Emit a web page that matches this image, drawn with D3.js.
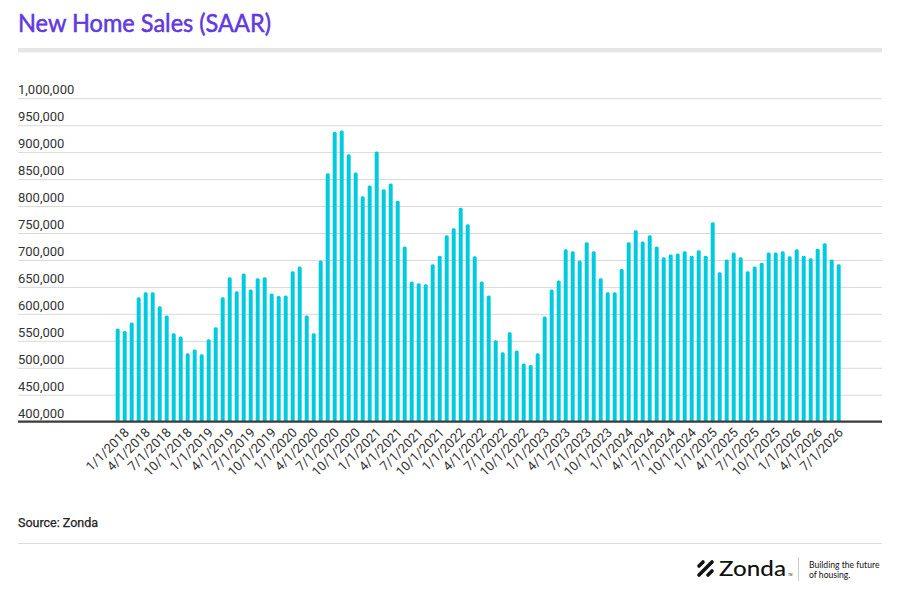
<!DOCTYPE html>
<html>
<head>
<meta charset="utf-8">
<script src="https://cdn.jsdelivr.net/npm/d3@7/dist/d3.min.js"></script>
<style>
  html, body { margin: 0; padding: 0; background: #fff; }
  svg { display: block; }
</style>
</head>
<body>
<svg id="chart" width="900" height="593"></svg>
<script>
// ---- Data ----
const title = "New Home Sales (SAAR)";
const source = "Source: Zonda";
const startMonth = new Date(2018, 0, 1);
const salesValues = [
  573000, 568000, 584000, 631000, 640000, 640000, 614000, 597000, 564000, 558000, 527000, 534000,
  525000, 553000, 575000, 631000, 668000, 642000, 675000, 645000, 666000, 668000, 638000, 633000,
  634000, 679000, 688000, 597000, 564000, 699000, 861000, 938000, 940000, 896000, 862000, 818000,
  838000, 901000, 831000, 842000, 810000, 725000, 660000, 657000, 655000, 692000, 708000, 746000,
  759000, 797000, 766000, 707000, 660000, 634000, 551000, 529000, 566000, 532000, 508000, 505000,
  527000, 595000, 645000, 662000, 720000, 716000, 699000, 733000, 716000, 666000, 640000, 640000,
  683000, 733000, 755000, 734000, 746000, 725000, 705000, 710000, 712000, 716000, 708000, 718000,
  708000, 770000, 677000, 701000, 714000, 705000, 679000, 688000, 695000, 714000, 714000, 716000,
  707000, 720000, 708000, 703000, 721000, 731000, 701000, 692000
];
const yTicks = [400000, 450000, 500000, 550000, 600000, 650000, 700000, 750000, 800000, 850000, 900000, 950000, 1000000];
const yDomain = [400000, 1000000];

const fmtDate = d => (d.getMonth() + 1) + "/" + d.getDate() + "/" + d.getFullYear();
const months = salesValues.map((v, i) => fmtDate(d3.timeMonth.offset(startMonth, i)));
const data = months.map((m, i) => ({ month: m, value: salesValues[i] }));
const tickLabels = months.filter((m, i) => i % 3 === 0);

// ---- Layout ----
const svg = d3.select("#chart");
const left = 18, right = 882;
const x = d3.scaleBand().domain(months).range([114.2, 842.2]).paddingInner(0.43).paddingOuter(0.215);
const y = d3.scaleLinear().domain(yDomain).range([421.7, 98.2]);

// Title
svg.append("text")
  .attr("x", left).attr("y", 32)
  .attr("font-family", "Lato, 'Noto Sans', sans-serif")
  .attr("font-size", 25)
  .attr("fill", "#6139de")
  .attr("stroke", "#6139de").attr("stroke-width", 0.55)
  .attr("textLength", 253).attr("lengthAdjust", "spacingAndGlyphs")
  .text(title);
svg.append("rect")
  .attr("x", left).attr("y", 48).attr("width", right - left).attr("height", 4.5)
  .attr("fill", "#e6e6e6");

// Grid + y labels
const gy = svg.append("g");
gy.selectAll("line.grid").data(yTicks.filter(t => t !== yDomain[0])).join("line")
  .attr("class", "grid")
  .attr("x1", left).attr("x2", right)
  .attr("y1", d => y(d) + 0.5).attr("y2", d => y(d) + 0.5)
  .attr("stroke", "#d9d9d9").attr("stroke-width", 1);
gy.selectAll("text").data(yTicks).join("text")
  .attr("x", left).attr("y", d => y(d) - 4)
  .attr("font-family", "Roboto, sans-serif")
  .attr("font-size", 13)
  .attr("fill", "#333")
  .text(d => d3.format(",")(d));

// Bars with slightly rounded tops
const r = 1.5;
svg.append("g").selectAll("path").data(data).join("path")
  .attr("fill", "#00cbde")
  .attr("d", d => {
    const x0 = x(d.month), w = x.bandwidth(), y0 = y(d.value), yb = y(yDomain[0]);
    return `M${x0},${yb}V${y0 + r}Q${x0},${y0} ${x0 + r},${y0}H${x0 + w - r}Q${x0 + w},${y0} ${x0 + w},${y0 + r}V${yb}Z`;
  });

// Baseline
svg.append("line")
  .attr("x1", left).attr("x2", right)
  .attr("y1", y(yDomain[0])).attr("y2", y(yDomain[0]))
  .attr("stroke", "#3a3a3a").attr("stroke-width", 2.2);

// X labels
svg.append("g").selectAll("text").data(tickLabels).join("text")
  .attr("transform", d => `translate(${x(d) + x.bandwidth() / 2 + 9},${430}) rotate(-45)`)
  .attr("text-anchor", "end")
  .attr("dy", "0.35em")
  .attr("font-family", "Roboto, sans-serif")
  .attr("font-size", 13)
  .attr("fill", "#333")
  .text(d => d);

// Source
svg.append("text")
  .attr("x", left).attr("y", 526.5)
  .attr("font-family", "Roboto, sans-serif")
  .attr("font-size", 12.5)
  .attr("fill", "#222")
  .attr("stroke", "#222").attr("stroke-width", 0.25)
  .text(source);
svg.append("line")
  .attr("x1", left).attr("x2", right)
  .attr("y1", 543.5).attr("y2", 543.5)
  .attr("stroke", "#dcdcdc").attr("stroke-width", 1);

// Logo
const logo = svg.append("g");
logo.append("line").attr("x1", 699).attr("y1", 575).attr("x2", 712).attr("y2", 562)
  .attr("stroke", "#111").attr("stroke-width", 3.6).attr("stroke-linecap", "round");
logo.append("line").attr("x1", 699).attr("y1", 566).attr("x2", 703).attr("y2", 562)
  .attr("stroke", "#111").attr("stroke-width", 3.6).attr("stroke-linecap", "round");
logo.append("line").attr("x1", 708).attr("y1", 575).attr("x2", 712).attr("y2", 571)
  .attr("stroke", "#111").attr("stroke-width", 3.6).attr("stroke-linecap", "round");
logo.append("text").attr("x", 719).attr("y", 576)
  .attr("font-family", "Lato, sans-serif").attr("font-size", 21).attr("font-weight", 500)
  .attr("fill", "#111").attr("textLength", 67).attr("lengthAdjust", "spacingAndGlyphs")
  .text("Zonda");
logo.append("text").attr("x", 788).attr("y", 576)
  .attr("font-family", "Roboto, sans-serif").attr("font-size", 3).attr("fill", "#111")
  .text("TM");
logo.append("line").attr("x1", 798.5).attr("x2", 798.5).attr("y1", 557).attr("y2", 581)
  .attr("stroke", "#ccc").attr("stroke-width", 1);
logo.append("text").attr("x", 809).attr("y", 568)
  .attr("font-family", "Lato, sans-serif").attr("font-size", 8.6).attr("fill", "#111")
  .text("Building the future");
logo.append("text").attr("x", 809).attr("y", 577.5)
  .attr("font-family", "Lato, sans-serif").attr("font-size", 8.6).attr("fill", "#111")
  .text("of housing.");
</script>
</body>
</html>
